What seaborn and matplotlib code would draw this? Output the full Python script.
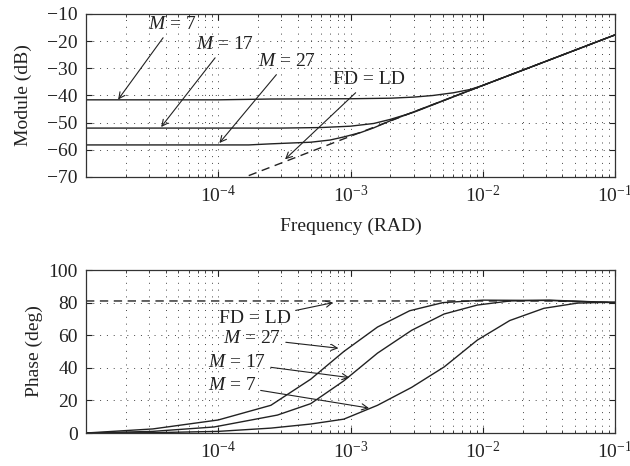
import numpy as np
import pandas as pd
import seaborn as sns
import matplotlib
matplotlib.use("Agg")
import matplotlib.pyplot as plt
from matplotlib.ticker import LogLocator, NullFormatter, FixedLocator

# ---- module (dB) vs frequency ----
mod_freq_m7 = [1e-5, 1e-4, 2.5e-4, 1e-3, 2e-3, 3e-3, 4.2e-3, 6e-3, 8e-3, 1e-2, 2e-2, 5e-2, 1e-1]
mod_m7 = [-41.6, -41.6, -41.3, -41.2, -41.0, -40.6, -40.0, -39.0, -37.8, -36.3, -30.7, -23.3, -17.7]

mod_freq_m17 = [1e-5, 3e-4, 6e-4, 1e-3, 1.5e-3, 2e-3, 3e-3, 1e-2, 1e-1]
mod_m17 = [-52.0, -52.0, -51.8, -51.3, -50.3, -48.8, -46.2, -36.3, -17.7]

mod_freq_m27 = [1e-5, 1.7e-4, 2.5e-4, 5e-4, 7e-4, 9e-4, 1.2e-3, 1.5e-3, 2e-3, 1e-2, 1e-1]
mod_m27 = [-58.2, -58.2, -57.8, -57.2, -56.4, -55.2, -53.6, -51.9, -49.3, -36.3, -17.7]

mod_freq_fd = [1.7e-4, 1e-3, 1e-2, 1e-1]
mod_fd = [-69.5, -55.0, -36.3, -17.7]

# ---- phase (deg) vs frequency ----
ph_freq_m27 = [1e-5, 3.2e-5, 1e-4, 2.5e-4, 5e-4, 8.9e-4, 1.6e-3, 2.8e-3, 5e-3, 1e-2, 3.2e-2, 1e-1]
ph_m27 = [0, 2.5, 8, 17, 33, 50, 65, 75, 80, 81.5, 81.3, 80]

ph_freq_m17 = [1e-5, 3.2e-5, 9.3e-5, 2.8e-4, 5e-4, 8.9e-4, 1.6e-3, 2.9e-3, 5.1e-3, 9.1e-3, 1.6e-2, 3.2e-2, 1e-1]
ph_m17 = [0, 1, 3.7, 11, 18, 32, 49, 63, 73, 78.5, 81, 81.5, 80]

ph_freq_m7 = [1e-5, 3.2e-5, 1e-4, 2.5e-4, 5e-4, 8.9e-4, 1.6e-3, 2.9e-3, 5.1e-3, 9.1e-3, 1.6e-2, 2.9e-2, 5.2e-2, 1e-1]
ph_m7 = [0, 0.2, 1, 3, 5.5, 8.5, 17, 28, 40.5, 57, 69, 76.5, 79.7, 80.3]

ph_freq_fd = [1e-5, 3.2e-2, 1e-1]
ph_fd = [81, 81, 80]

sns.set_theme(style="ticks")
plt.rcParams["font.family"] = ["Liberation Serif", "DejaVu Serif"]
plt.rcParams["mathtext.fontset"] = "custom"
plt.rcParams["mathtext.rm"] = "Liberation Serif"
plt.rcParams["mathtext.it"] = "Liberation Serif:italic"
plt.rcParams["axes.unicode_minus"] = True

FS = 14
LINE = "#222222"

fig = plt.figure(figsize=(6.3, 4.66), dpi=100)
ax1 = fig.add_axes([0.1365, 0.6202, 0.8397, 0.3498])
ax2 = fig.add_axes([0.1365, 0.0708, 0.8397, 0.3498])


def style_axes(ax):
    ax.set_xscale("log")
    ax.set_xlim(1e-5, 1e-1)
    ax.xaxis.set_major_locator(FixedLocator([1e-4, 1e-3, 1e-2, 1e-1]))
    ax.xaxis.set_minor_locator(LogLocator(base=10, subs=np.arange(2, 10), numticks=20))
    ax.xaxis.set_minor_formatter(NullFormatter())
    ax.tick_params(which="both", direction="in", top=True, right=True,
                   labelsize=FS, colors="#222222", pad=6)
    ax.tick_params(which="major", length=4, width=0.8)
    ax.tick_params(which="minor", length=2.5, width=0.6)
    for s in ax.spines.values():
        s.set_linewidth(0.9)
        s.set_color("#333333")
    ax.grid(True, which="major", axis="both", linestyle=(0, (1, 6)),
            color="#444444", linewidth=0.7)
    ax.grid(True, which="minor", axis="x", linestyle=(0, (1, 6)),
            color="#444444", linewidth=0.7)
    ax.set_axisbelow(True)


style_axes(ax1)
style_axes(ax2)

# top panel
for f, v in [(mod_freq_m7, mod_m7), (mod_freq_m17, mod_m17), (mod_freq_m27, mod_m27)]:
    sns.lineplot(x=f, y=v, ax=ax1, color=LINE, linewidth=1.0, sort=False)
sns.lineplot(x=mod_freq_fd, y=mod_fd, ax=ax1, color=LINE, linewidth=1.0, sort=False,
             linestyle=(0, (6, 4)))
ax1.set_ylim(-70, -10)
ax1.set_yticks(np.arange(-70, -5, 10))
ax1.set_ylabel("Module (dB)", fontsize=FS, color="#222222", labelpad=11)
ax1.set_xlabel("Frequency (RAD)", fontsize=FS, color="#222222", labelpad=8)

arrow = dict(arrowstyle="->", lw=0.8, color="#222222", shrinkA=1, shrinkB=0,
             mutation_scale=11)
top_notes = [
    ("$M$ = 7", (1.75e-5, -41.5), (2.96e-5, -14.0)),
    ("$M$ = 17", (3.7e-5, -51.6), (6.8e-5, -21.4)),
    ("$M$ = 27", (1.02e-4, -57.5), (2.0e-4, -27.6)),
    ("FD = LD", (3.2e-4, -63.5), (7.4e-4, -34.3)),
]
for txt, xy, xyt in top_notes:
    ax1.annotate(txt, xy=xy, xytext=xyt, ha="left", va="center", fontsize=FS,
                 color="#222222", arrowprops=arrow)

# bottom panel
for f, v in [(ph_freq_m27, ph_m27), (ph_freq_m17, ph_m17), (ph_freq_m7, ph_m7)]:
    sns.lineplot(x=f, y=v, ax=ax2, color=LINE, linewidth=1.0, sort=False)
sns.lineplot(x=ph_freq_fd, y=ph_fd, ax=ax2, color=LINE, linewidth=1.0, sort=False,
             linestyle=(0, (6, 4)))
ax2.set_ylim(0, 100)
ax2.set_yticks(np.arange(0, 101, 20))
ax2.set_ylabel("Phase (deg)", fontsize=FS, color="#222222", labelpad=4)
ax2.set_xlabel("")

bottom_notes = [
    ("FD = LD", (7.4e-4, 80.0), (3.55e-4, 70.0)),
    ("$M$ = 27", (8.1e-4, 52.0), (2.99e-4, 58.0)),
    ("$M$ = 17", (9.8e-4, 34.0), (2.3e-4, 43.0)),
    ("$M$ = 7", (1.38e-3, 15.3), (1.93e-4, 29.0)),
]
for txt, xy, xyt in bottom_notes:
    ax2.annotate(txt, xy=xy, xytext=xyt, ha="right", va="center", fontsize=FS,
                 color="#222222", arrowprops=arrow)

fig.savefig("out.png", dpi=100)
